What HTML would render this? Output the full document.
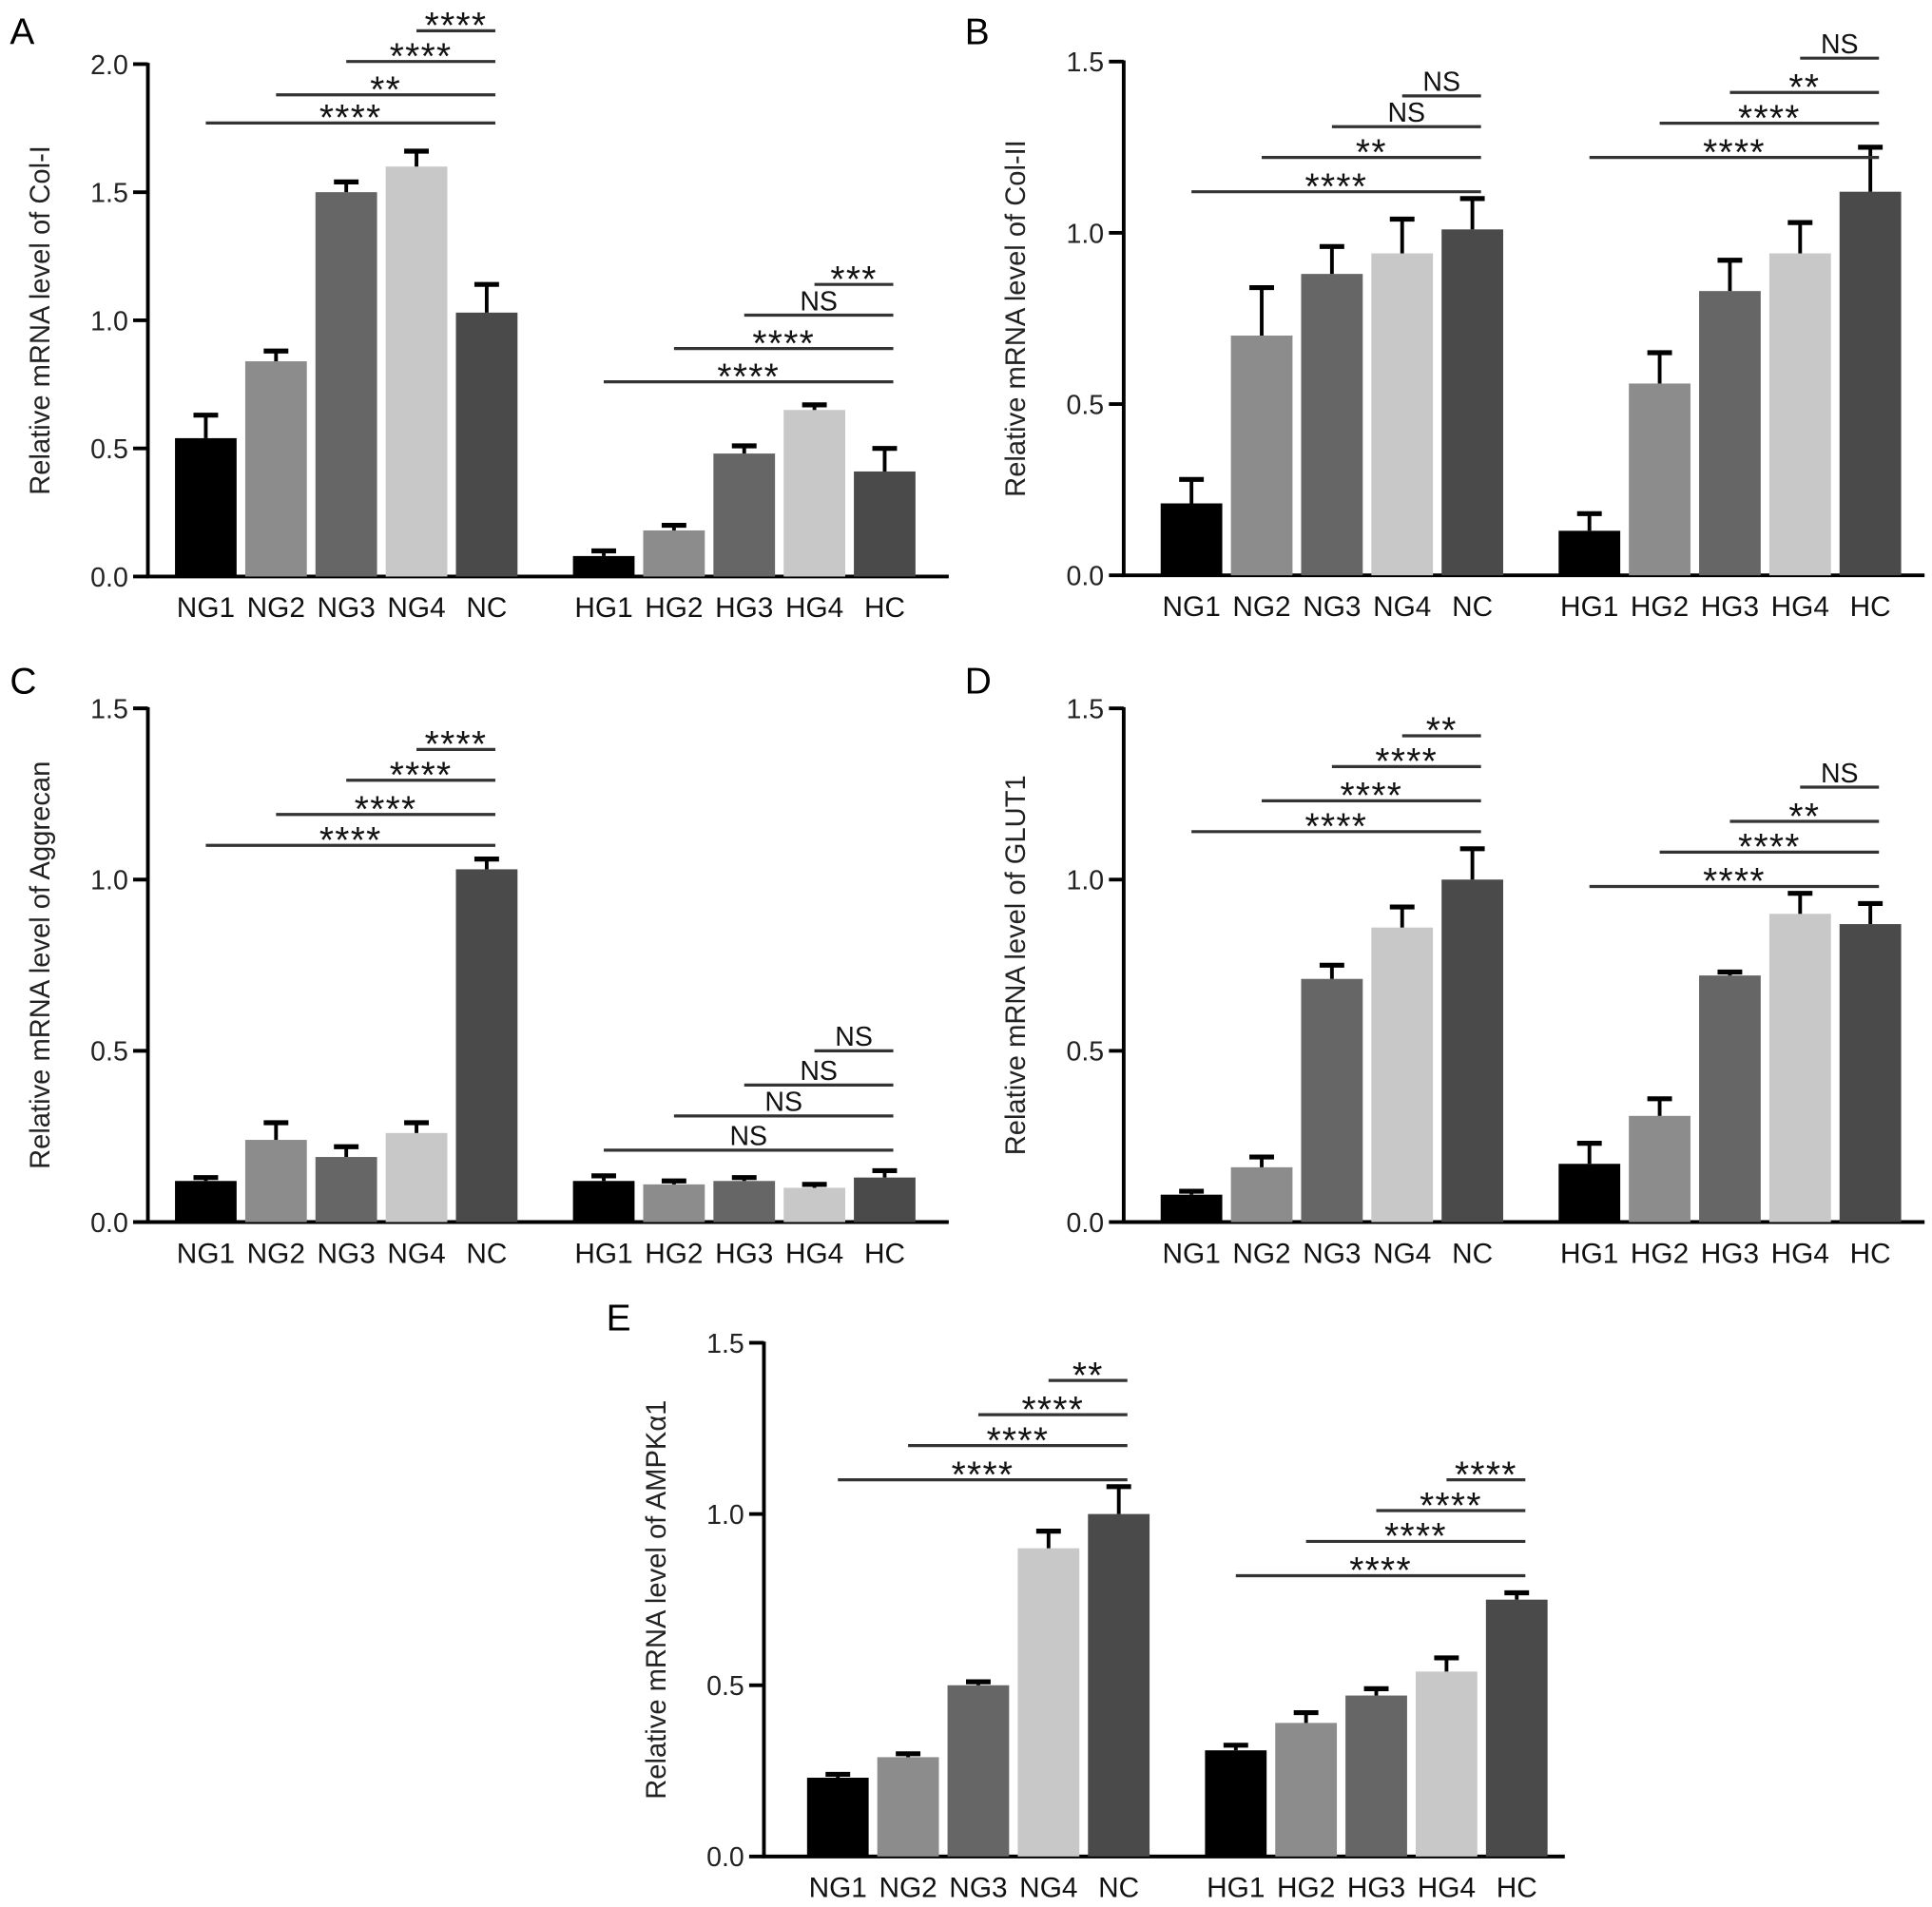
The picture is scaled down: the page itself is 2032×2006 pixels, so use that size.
<!DOCTYPE html>
<html><head><meta charset="utf-8"><style>
html,body{margin:0;padding:0;background:#fff;}
svg{display:block;font-family:"Liberation Sans",sans-serif;}
</style></head><body>
<svg id="fig" width="2032" height="2006" viewBox="0 0 1568 1548" xmlns="http://www.w3.org/2000/svg"></svg>
<script>
const categories = ["NG1","NG2","NG3","NG4","NC","HG1","HG2","HG3","HG4","HC"];
const colAValues = [0.54,0.84,1.50,1.60,1.03,0.08,0.18,0.48,0.65,0.41];
const colAErrors = [0.09,0.04,0.04,0.06,0.11,0.02,0.02,0.03,0.02,0.09];
const colAAnnot = [{from:0,to:4,level:1.77,label:"****"},{from:1,to:4,level:1.88,label:"**"},{from:2,to:4,level:2.01,label:"****"},{from:3,to:4,level:2.13,label:"****"},{from:5,to:9,level:0.76,label:"****"},{from:6,to:9,level:0.89,label:"****"},{from:7,to:9,level:1.02,label:"NS"},{from:8,to:9,level:1.14,label:"***"}];
const colIIValues = [0.21,0.70,0.88,0.94,1.01,0.13,0.56,0.83,0.94,1.12];
const colIIErrors = [0.07,0.14,0.08,0.10,0.09,0.05,0.09,0.09,0.09,0.13];
const colIIAnnot = [{from:0,to:4,level:1.12,label:"****"},{from:1,to:4,level:1.22,label:"**"},{from:2,to:4,level:1.31,label:"NS"},{from:3,to:4,level:1.40,label:"NS"},{from:5,to:9,level:1.22,label:"****"},{from:6,to:9,level:1.32,label:"****"},{from:7,to:9,level:1.41,label:"**"},{from:8,to:9,level:1.51,label:"NS"}];
const aggValues = [0.12,0.24,0.19,0.26,1.03,0.12,0.11,0.12,0.10,0.13];
const aggErrors = [0.01,0.05,0.03,0.03,0.03,0.015,0.01,0.01,0.01,0.02];
const aggAnnot = [{from:0,to:4,level:1.10,label:"****"},{from:1,to:4,level:1.19,label:"****"},{from:2,to:4,level:1.29,label:"****"},{from:3,to:4,level:1.38,label:"****"},{from:5,to:9,level:0.21,label:"NS"},{from:6,to:9,level:0.31,label:"NS"},{from:7,to:9,level:0.40,label:"NS"},{from:8,to:9,level:0.50,label:"NS"}];
const glutValues = [0.08,0.16,0.71,0.86,1.00,0.17,0.31,0.72,0.90,0.87];
const glutErrors = [0.01,0.03,0.04,0.06,0.09,0.06,0.05,0.01,0.06,0.06];
const glutAnnot = [{from:0,to:4,level:1.14,label:"****"},{from:1,to:4,level:1.23,label:"****"},{from:2,to:4,level:1.33,label:"****"},{from:3,to:4,level:1.42,label:"**"},{from:5,to:9,level:0.98,label:"****"},{from:6,to:9,level:1.08,label:"****"},{from:7,to:9,level:1.17,label:"**"},{from:8,to:9,level:1.27,label:"NS"}];
const ampkValues = [0.23,0.29,0.50,0.90,1.00,0.31,0.39,0.47,0.54,0.75];
const ampkErrors = [0.01,0.01,0.01,0.05,0.08,0.015,0.03,0.02,0.04,0.02];
const ampkAnnot = [{from:0,to:4,level:1.10,label:"****"},{from:1,to:4,level:1.20,label:"****"},{from:2,to:4,level:1.29,label:"****"},{from:3,to:4,level:1.39,label:"**"},{from:5,to:9,level:0.82,label:"****"},{from:6,to:9,level:0.92,label:"****"},{from:7,to:9,level:1.01,label:"****"},{from:8,to:9,level:1.10,label:"****"}];
const ticks2 = ["0.0","0.5","1.0","1.5","2.0"];
const ticks15 = ["0.0","0.5","1.0","1.5"];

const colors = ["#000000","#8c8c8c","#666666","#c8c8c8","#4a4a4a"];
const NS = "http://www.w3.org/2000/svg";
const svg = document.getElementById("fig");
function mk(tag, attrs, parent){const e=document.createElementNS(NS,tag);for(const k in attrs)e.setAttribute(k,attrs[k]);(parent||svg).appendChild(e);return e;}

function panel(cfg){
  const g = mk("g",{});
  
  
  const ox=cfg.ox, oy=cfg.oy, H=cfg.h, ymax=cfg.ymax, W=650;
  const y = v => oy - v/ymax*H;
  const x = i => ox + cfg.bx + i*57 + (i>=5?38:0);
  const L = mk("text",{x:cfg.lx,y:cfg.ly,"font-size":30},g); L.textContent=cfg.letter;
  
  
  const ya = mk("line",{x1:ox,y1:oy,x2:ox,y2:y(ymax)-1,stroke:"#000","stroke-width":3},g);
  
  
  const xa = mk("line",{x1:ox-1.5,y1:oy,x2:ox+W,y2:oy,stroke:"#000","stroke-width":3},g);
  
  
  cfg.ticks.forEach(t=>{
    const v=parseFloat(t);
    mk("line",{x1:ox-12,y1:y(v),x2:ox,y2:y(v),stroke:"#000","stroke-width":3},g);
    const tt=mk("text",{x:ox-16,y:y(v)+8,"font-size":22,"text-anchor":"end",fill:"#222"},g); tt.textContent=t;
    
    
  });
  const yt=mk("text",{x:0,y:0,"font-size":22.5,"text-anchor":"middle",fill:"#222",transform:`translate(${ox-80},${oy-H/2}) rotate(-90)`},g);
  yt.textContent=cfg.title;
  
  
  cfg.values.forEach((v,i)=>{
    const cx=x(i), e=cfg.errors[i];
    const r=mk("rect",{x:cx-25,y:y(v),width:50,height:oy-y(v),fill:colors[i%5]},g);
    
    
    mk("line",{x1:cx,y1:y(v),x2:cx,y2:y(v+e),stroke:"#000","stroke-width":3},g);
    const cap=mk("line",{x1:cx-10,y1:y(v+e),x2:cx+10,y2:y(v+e),stroke:"#000","stroke-width":4},g);
    
    
    const lab=mk("text",{x:cx,y:oy+33,"font-size":23,"text-anchor":"middle",fill:"#111"},g); lab.textContent=categories[i];
    
    
  });
  cfg.annot.forEach(a=>{
    const x1=x(a.from), x2=x(a.to)+7, ly=y(a.level);
    const ln=mk("line",{x1:x1,y1:ly,x2:x2,y2:ly,stroke:"#333","stroke-width":2.5},g);
    
    
    const isNS=a.label==="NS";
    const t=mk("text",{x:(x1+x2)/2,y:ly-(isNS?4:-6),"font-size":isNS?22:30,"text-anchor":"middle",fill:"#111","letter-spacing":isNS?0:1},g);
    t.textContent=a.label;
    
    
  });
}
panel({letter:"A",lx:8,ly:36,ox:120,oy:468,h:416,ymax:2.0,bx:47,ticks:ticks2,title:"Relative mRNA level of Col-I",values:colAValues,errors:colAErrors,annot:colAAnnot});
panel({letter:"B",lx:783,ly:36,ox:912,oy:467,h:417,ymax:1.5,bx:55,ticks:ticks15,title:"Relative mRNA level of Col-II",values:colIIValues,errors:colIIErrors,annot:colIIAnnot});
panel({letter:"C",lx:8,ly:563,ox:120,oy:992,h:417,ymax:1.5,bx:47,ticks:ticks15,title:"Relative mRNA level of Aggrecan",values:aggValues,errors:aggErrors,annot:aggAnnot});
panel({letter:"D",lx:783,ly:563,ox:912,oy:992,h:417,ymax:1.5,bx:55,ticks:ticks15,title:"Relative mRNA level of GLUT1",values:glutValues,errors:glutErrors,annot:glutAnnot});
panel({letter:"E",lx:492,ly:1080,ox:620,oy:1507,h:417,ymax:1.5,bx:60,ticks:ticks15,title:"Relative mRNA level of AMPKα1",values:ampkValues,errors:ampkErrors,annot:ampkAnnot});
</script>
</body></html>
